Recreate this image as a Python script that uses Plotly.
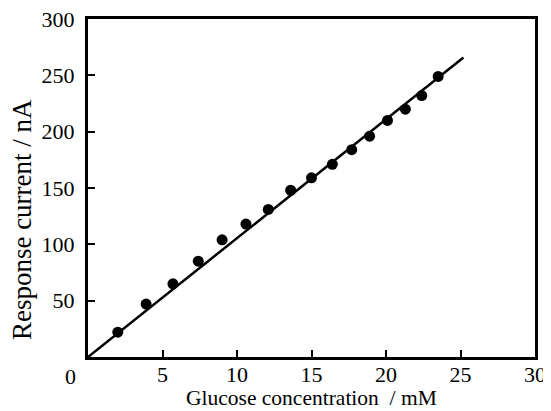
import plotly.graph_objects as go

# Data
glucose_mM = [2.0, 3.9, 5.7, 7.4, 9.0, 10.6, 12.1, 13.6, 15.0, 16.4, 17.7, 18.9, 20.1, 21.3, 22.4, 23.5]
current_nA = [22, 47, 65, 85, 104, 118, 131, 148, 159, 171, 184, 196, 210, 220, 232, 249]
fit_x = [0, 25.2]
fit_y = [0, 265.8]
x_ticks = [5, 10, 15, 20, 25, 30]
y_ticks = [50, 100, 150, 200, 250, 300]

FONT = "Liberation Serif"

fig = go.Figure()
fig.add_trace(go.Scatter(x=fit_x, y=fit_y, mode="lines",
                         line=dict(color="black", width=2.5), showlegend=False))
fig.add_trace(go.Scatter(x=glucose_mM, y=current_nA, mode="markers",
                         marker=dict(color="black", size=11), showlegend=False))

# the page body has an 8px margin, so the figure is sized/offset to compensate
fig.update_layout(
    width=543, height=403,
    margin=dict(l=80, r=15.5, t=11, b=54),
    paper_bgcolor="white", plot_bgcolor="white",
    font=dict(family=FONT, size=22, color="black"),
    xaxis=dict(range=[0, 30], tickvals=x_ticks, ticks="inside", ticklen=7,
               tickwidth=1.5, tickcolor="black", showgrid=False, zeroline=False,
               showline=True, linecolor="black", linewidth=3, mirror=True,
               automargin=False, ticklabelstandoff=-4, ticklabeloverflow="allow",
               tickfont=dict(family=FONT, size=22)),
    yaxis=dict(range=[0, 300], tickvals=y_ticks, ticks="inside", ticklen=7,
               tickwidth=1.5, tickcolor="black", showgrid=False, zeroline=False,
               showline=True, linecolor="black", linewidth=3, mirror=True,
               automargin=False, ticklabelstandoff=6, ticklabeloverflow="allow",
               tickfont=dict(family=FONT, size=22)),
    annotations=[
        dict(text="0", x=0, y=0, xref="paper", yref="paper", showarrow=False,
             xanchor="center", yanchor="middle", xshift=-18, yshift=-19,
             font=dict(family=FONT, size=22)),
        dict(text="Glucose concentration&nbsp;&nbsp;/ mM", x=0.5, y=0,
             xref="paper", yref="paper", showarrow=False, xanchor="center",
             yanchor="middle", yshift=-41, font=dict(family=FONT, size=21.5)),
        dict(text="Response current / nA", x=0, y=0.405, xref="paper", yref="paper",
             textangle=-90, showarrow=False, xanchor="center", yanchor="middle",
             xshift=-66, font=dict(family=FONT, size=27)),
    ],
)

fig.write_html("out.html")
